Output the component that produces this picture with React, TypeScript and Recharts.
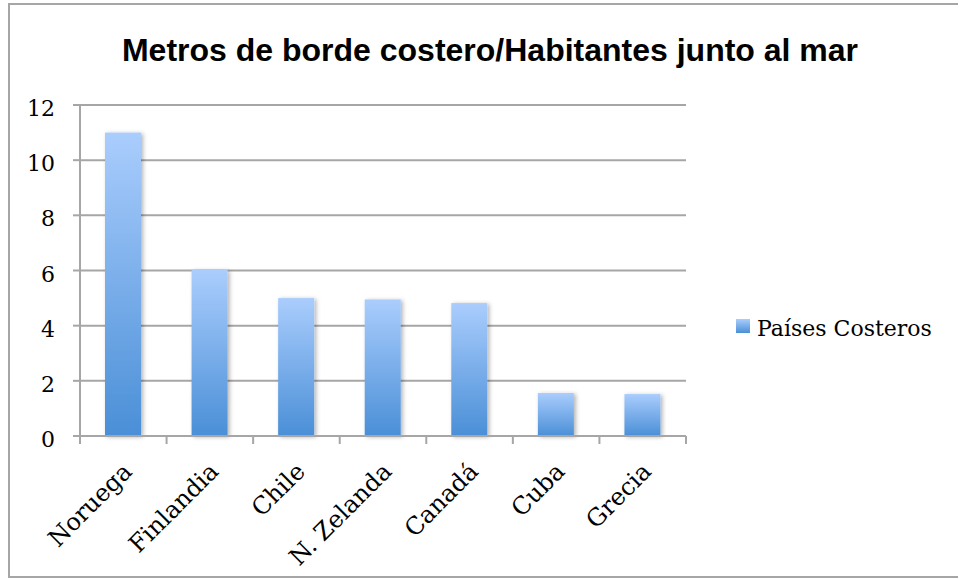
import React from 'react';
import { BarChart, Bar, XAxis, YAxis, CartesianGrid, Legend } from 'recharts';

const title = 'Metros de borde costero/Habitantes junto al mar';
const seriesName = 'Países Costeros';
const categories = ['Noruega', 'Finlandia', 'Chile', 'N. Zelanda', 'Canadá', 'Cuba', 'Grecia'];
const values = [11, 6.02, 5.0, 4.95, 4.82, 1.56, 1.52];
const yTicks = [0, 2, 4, 6, 8, 10, 12];

const data = categories.map((name, i) => ({ name, value: values[i] }));

const GRAY = '#a6a6a6';
const SERIF = '"DejaVu Serif", serif';
const W = 950;
const H = 575;

const GradRect = (p: any) => (
  <rect x={p.x} y={p.y} width={p.width} height={p.height} fill="url(#barGrad)" filter="url(#barShadow)" />
);

const XTick = (props: any) => {
  const { x, y, payload, index, width } = props;
  const half = payload && typeof payload.offset === 'number' && payload.offset > 0
    ? payload.offset
    : (width || 606) / (categories.length * 2);
  return (
    <g>
      <line x1={x - half} x2={x - half} y1={y} y2={y + 8} stroke={GRAY} strokeWidth={2} />
      {index === categories.length - 1 && (
        <line x1={x + half} x2={x + half} y1={y} y2={y + 8} stroke={GRAY} strokeWidth={2} />
      )}
      <text
        transform={`translate(${x + 10},${y + 37}) rotate(-45)`}
        textAnchor="end"
        fontFamily={SERIF}
        fontSize={24}
        fill="#000"
      >
        {payload.value}
      </text>
    </g>
  );
};

const YTick = (props: any) => {
  const { x, y, payload } = props;
  return (
    <text x={x} y={y} dy={11} textAnchor="end" fontFamily={SERIF} fontSize={22} fill="#000">
      {payload.value}
    </text>
  );
};

const LegendContent = (props: any) => {
  const item = props.payload && props.payload[0];
  const label = item ? item.value : seriesName;
  return (
    <svg width={200} height={32} style={{ display: 'block' }}>
      <defs>
        <linearGradient id="legGrad" x1="0" y1="0" x2="0" y2="1">
          <stop offset="0%" stopColor="#aacdfd" />
          <stop offset="100%" stopColor="#4a8fd7" />
        </linearGradient>
      </defs>
      <rect x={0} y={7} width={14} height={14} fill="url(#legGrad)" />
      <text x={21} y={24} fontFamily={SERIF} fontSize={22} fill="#000">
        {label}
      </text>
    </svg>
  );
};

export default function App() {
  return (
    <div
      style={{
        position: 'absolute',
        left: 8,
        top: 3,
        width: W,
        height: H,
        overflow: 'hidden',
        background: '#fff',
      }}
    >
      <div style={{ position: 'absolute', left: 0, top: 0 }}>
        <BarChart
          width={W}
          height={H}
          data={data}
          margin={{ top: 102, right: 272, left: 0, bottom: 0 }}
        >
          <defs>
            <linearGradient id="barGrad" x1="0" y1="0" x2="0" y2="1">
              <stop offset="0%" stopColor="#aacdfd" />
              <stop offset="100%" stopColor="#4a8fd7" />
            </linearGradient>
            <filter id="barShadow" x="-20%" y="-5%" width="150%" height="115%">
              <feDropShadow dx="2" dy="1" stdDeviation="2" floodColor="#000" floodOpacity="0.3" />
            </filter>
          </defs>
          <CartesianGrid vertical={false} stroke={GRAY} strokeWidth={2} />
          <XAxis
            dataKey="name"
            interval={0}
            height={142}
            tickSize={0}
            tickMargin={0}
            tickLine={false}
            axisLine={{ stroke: GRAY, strokeWidth: 2 }}
            tick={<XTick />}
          />
          <YAxis
            width={72}
            domain={[0, 12]}
            ticks={yTicks}
            interval={0}
            tickSize={7}
            tickMargin={18}
            tickLine={{ stroke: GRAY, strokeWidth: 2 }}
            axisLine={{ stroke: GRAY, strokeWidth: 2 }}
            tick={<YTick />}
          />
          <Legend
            layout="horizontal"
            verticalAlign="middle"
            align="center"
            wrapperStyle={{ left: 728, top: 309, width: 200, height: 32 }}
            content={<LegendContent />}
          />
          <Bar
            dataKey="value"
            name={seriesName}
            barSize={36}
            isAnimationActive={false}
            shape={GradRect}
          />
        </BarChart>
      </div>
      <svg
        width={W}
        height={H}
        style={{ position: 'absolute', left: 0, top: 0, pointerEvents: 'none' }}
      >
        <path
          d={`M ${W + 10} 1 H 1 V ${H - 1} H ${W + 10}`}
          fill="none"
          stroke={GRAY}
          strokeWidth={2}
        />
        <text
          x={482}
          y={58}
          textAnchor="middle"
          fontFamily='"Liberation Sans", Arial, sans-serif'
          fontWeight="bold"
          fontSize={32}
          fill="#000"
        >
          {title}
        </text>
      </svg>
    </div>
  );
}
